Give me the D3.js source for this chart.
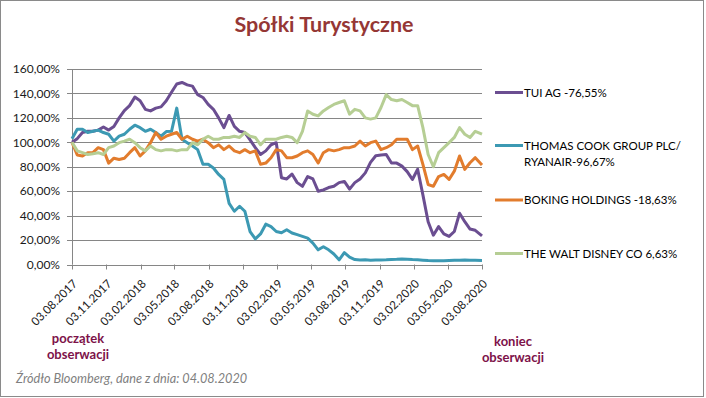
<!DOCTYPE html>
<html>
<head>
<meta charset="utf-8">
<script src="https://cdn.jsdelivr.net/npm/d3@7"></script>
<style>
  body { margin: 0; background: #fff; }
  svg { display: block; font-family: Lato, "Open Sans", sans-serif; }
</style>
</head>
<body>
<svg id="chart" width="706" height="398"></svg>
<script>
// values in % of start price, one point every two weeks from 03.08.2017
const tui = [100, 103, 108, 109, 109, 110, 112.6, 110, 113, 120, 126, 130, 137, 134, 127, 125.7, 128, 129, 134, 141, 147.7, 149, 147, 146, 139, 136.7,
  131, 127, 120, 112, 122, 113, 109, 108, 102, 95.6, 90, 93, 98, 99.7, 71, 70, 74, 67, 64, 72, 70, 60, 61, 63, 64, 67,
  68, 61.7, 67, 70, 75, 83.6, 89, 89.6, 90, 83, 83, 80.5, 76, 69.6, 78, 57, 35, 24, 31, 25, 23, 27, 42, 35, 29, 28, 23.45]
const thomasCook = [103, 110.7, 110.7, 108, 109, 110, 108, 106.6, 101, 105, 106.6, 110.7, 114, 112, 109, 110.7, 108, 105, 108.8, 109, 128, 102.5, 99.7, 97, 94, 82,
  82, 79, 73.7, 69.6, 50, 43.6, 47.7, 43.6, 27, 21, 25, 33, 31, 27, 26, 28.5, 25.8, 24.4, 23, 21.6, 17.5, 12, 14.6, 12, 8.6, 3.8,
  9.7, 6, 4, 3.6, 3.8, 3.5, 3.6, 3.7, 3.8, 4, 4.2, 4.5, 4.3, 4, 3.8, 3.5, 3.2, 3, 3.1, 3, 3.2, 3.4, 3.5, 3.6, 3.4, 3.5, 3.33]
const booking = [100, 89.6, 88.8, 91.5, 91.5, 95.6, 94, 83, 87, 86, 87, 91.5, 95.6, 88.8, 93, 99.7, 108, 102.5, 105, 106.6, 108, 102.5, 105, 102.5, 101, 102.5,
  99.7, 95.6, 98, 94, 97, 93, 91.5, 94, 91.5, 93, 82, 83, 87.4, 94, 93, 87.4, 87.4, 88.8, 91.5, 93, 90, 83, 91.5, 94, 93, 94,
  95.6, 95.6, 97, 101, 97, 99.7, 101, 94, 95.6, 98, 102.5, 102.5, 102.5, 94, 97, 82, 65.5, 64, 72, 73.7, 69.6, 76.4, 88.8, 77.8, 83.3, 87.4, 81.37]
const disney = [100, 93, 91.5, 90, 90.7, 91.5, 90, 95.6, 97, 99.7, 101, 102.5, 99.7, 95.6, 93, 97, 94, 93, 94, 94, 93, 94, 94, 99.7, 98, 102.5,
  105, 102.5, 102.5, 104, 104, 105, 104, 108, 105, 104, 98, 102.5, 102.5, 102.5, 104, 105, 104, 99.7, 109, 125.7, 123, 121.6, 125.7, 128.5, 131, 132.6,
  134, 123, 127, 125.7, 120, 119, 120, 128.5, 139, 135, 134, 135, 132.6, 130, 130, 112, 90, 80, 91.5, 95.6, 99.7, 104, 112, 106.6, 104, 109, 106.63]

const seriesNames = ["TUI AG -76,55%", "THOMAS COOK GROUP PLC/|RYANAIR-96,67%", "BOKING HOLDINGS -18,63%", "THE WALT DISNEY CO 6,63%"]
const seriesColors = ["#6B4E91", "#3C99B3", "#E27C2D", "#B6CE94"]
const yTicks = [0, 20, 40, 60, 80, 100, 120, 140, 160]

const startDate = new Date(2017, 7, 3)
const endDate = new Date(2020, 7, 3)
const tickDates = d3.range(13).map(k => new Date(2017, 7 + 3 * k, 3))

const svg = d3.select("#chart")

svg.append("rect")
  .attr("x", 0.5).attr("y", 0.5)
  .attr("width", 703).attr("height", 396)
  .attr("fill", "#fff").attr("stroke", "#8a8a8a")

svg.append("text")
  .attr("x", 324).attr("y", 32)
  .attr("text-anchor", "middle")
  .attr("font-size", 21.5).attr("font-weight", "bold")
  .attr("fill", "#953735")
  .text("Spółki Turystyczne")

const x = d3.scaleTime().domain([startDate, endDate]).range([72, 482])
const y = d3.scaleLinear().domain([0, 160]).range([264.5, 69])

// grid
svg.append("g")
  .selectAll("line")
  .data(yTicks)
  .join("line")
  .attr("x1", 67).attr("x2", 482)
  .attr("y1", d => Math.round(y(d)) + 0.5).attr("y2", d => Math.round(y(d)) + 0.5)
  .attr("stroke", "#868686")

const fmt = d => d3.format(".2f")(d).replace(".", ",") + "%"

svg.append("g")
  .selectAll("text")
  .data(yTicks)
  .join("text")
  .attr("x", 60).attr("y", d => y(d))
  .attr("dy", "0.35em")
  .attr("text-anchor", "end")
  .attr("font-size", 12)
  .attr("fill", "#1a1a1a")
  .text(fmt)

// y axis line
svg.append("line")
  .attr("x1", 72.5).attr("x2", 72.5)
  .attr("y1", y(160)).attr("y2", y(0))
  .attr("stroke", "#868686")

// x ticks + labels
const xg = svg.append("g")
xg.selectAll("line")
  .data(tickDates)
  .join("line")
  .attr("x1", d => Math.round(x(d)) + 0.5).attr("x2", d => Math.round(x(d)) + 0.5)
  .attr("y1", y(0)).attr("y2", y(0) + 5)
  .attr("stroke", "#868686")

const dateFmt = d3.timeFormat("%d.%m.%Y")
xg.selectAll("text")
  .data(tickDates)
  .join("text")
  .attr("transform", d => `translate(${x(d) + 6}, ${y(0) + 20}) rotate(-45)`)
  .attr("text-anchor", "end")
  .attr("font-size", 11.6)
  .attr("fill", "#1a1a1a")
  .text(dateFmt)

// lines
const dates = d3.range(tui.length).map(i => i == tui.length - 1 ? endDate : d3.timeDay.offset(startDate, i * 14))
const line = d3.line()
  .x((d, i) => x(dates[i]))
  .y(d => y(d))

const allSeries = [tui, thomasCook, booking, disney]
allSeries.forEach((s, k) => {
  svg.append("path")
    .datum(s)
    .attr("d", line)
    .attr("fill", "none")
    .attr("stroke", seriesColors[k])
    .attr("stroke-width", 3)
    .attr("stroke-linejoin", "round")
})

// legend
const legendY = [92.5, 145.5, 200, 253.5]
const lg = svg.append("g")
seriesNames.forEach((name, k) => {
  lg.append("line")
    .attr("x1", 495).attr("x2", 523)
    .attr("y1", legendY[k]).attr("y2", legendY[k])
    .attr("stroke", seriesColors[k]).attr("stroke-width", 3)
  const parts = name.split("|")
  parts.forEach((p, j) => {
    lg.append("text")
      .attr("x", 524).attr("y", legendY[k] + j * 16)
      .attr("dy", "0.35em")
      .attr("font-size", 11.5)
      .attr("fill", "#000")
      .text(p)
  })
})

// notes
const noteColor = "#7D1249"
const notes = [
  {x: 78, y: 338, lines: ["początek", "obserwacji"]},
  {x: 513, y: 341, lines: ["koniec", "obserwacji"]}
]
notes.forEach(n => {
  n.lines.forEach((t, j) => {
    svg.append("text")
      .attr("x", n.x).attr("y", n.y + j * 16)
      .attr("dy", "0.35em")
      .attr("text-anchor", "middle")
      .attr("font-size", 13).attr("font-weight", "bold")
      .attr("fill", noteColor)
      .text(t)
  })
})

svg.append("text")
  .attr("x", 16).attr("y", 379)
  .attr("dy", "0.35em")
  .attr("font-size", 12.7).attr("font-style", "italic")
  .attr("fill", "#7f7f7f")
  .text("Źródło Bloomberg, dane z dnia: 04.08.2020")
</script>
</body>
</html>
